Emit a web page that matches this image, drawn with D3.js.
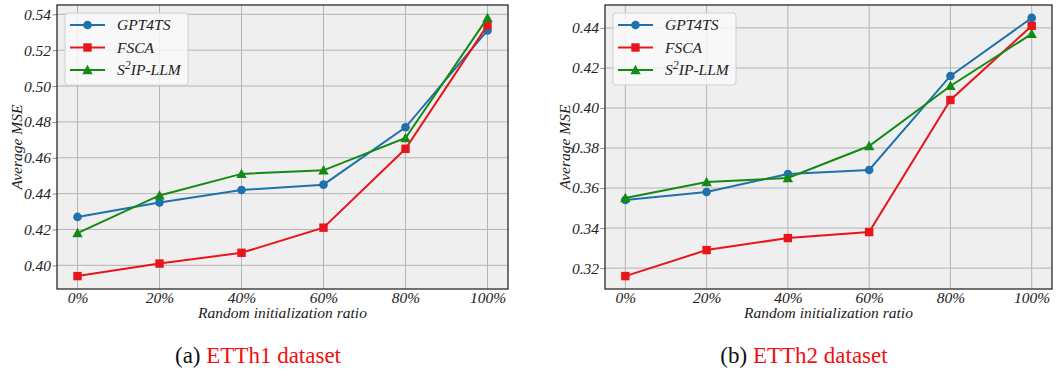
<!DOCTYPE html>
<html>
<head>
<meta charset="utf-8">
<script src="https://cdn.jsdelivr.net/npm/d3@7"></script>
<style>
  body { margin: 0; background: #fff; }
</style>
</head>
<body>
<script>
const ratios = [0, 20, 40, 60, 80, 100]
const tickLabels = ["0%", "20%", "40%", "60%", "80%", "100%"]
const seriesNames = ["GPT4TS", "FSCA", "S2IP-LLM"]
const colors = ["#1f71ad", "#e8161b", "#148a14"]
const markers = ["circle", "square", "triangle"]

const etth1Gpt = [0.427, 0.435, 0.442, 0.445, 0.477, 0.531]
const etth1Fsca = [0.394, 0.401, 0.407, 0.421, 0.465, 0.534]
const etth1S2ip = [0.418, 0.439, 0.451, 0.453, 0.471, 0.538]
const etth1Ticks = [0.40, 0.42, 0.44, 0.46, 0.48, 0.50, 0.52, 0.54]

const etth2Gpt = [0.354, 0.358, 0.367, 0.369, 0.416, 0.445]
const etth2Fsca = [0.316, 0.329, 0.335, 0.338, 0.404, 0.441]
const etth2S2ip = [0.355, 0.363, 0.365, 0.381, 0.411, 0.437]
const etth2Ticks = [0.32, 0.34, 0.36, 0.38, 0.40, 0.42, 0.44]

const FONT = "Liberation Serif"
const W = 1058, H = 369
const svg = d3.select("body").append("svg").attr("width", W).attr("height", H)
  .attr("font-family", FONT)

function marker(g, type, x, y, color) {
  if (type == "circle") {
    g.append("circle").attr("cx", x).attr("cy", y).attr("r", 4.3).attr("fill", color)
  } else if (type == "square") {
    g.append("rect").attr("x", x - 4.2).attr("y", y - 4.2).attr("width", 8.4).attr("height", 8.4).attr("fill", color)
  } else {
    const s = 5.2
    g.append("path").attr("d", `M${x},${y - s}L${x + s},${y + s * 0.8}L${x - s},${y + s * 0.8}Z`).attr("fill", color)
  }
}

function panel(opts) {
  const { left, right, top, bottom, series, yTicks, caption, captionX } = opts
  const g = svg.append("g").attr("font-family", FONT)
  const all = series.flat()
  const lo = d3.min(all), hi = d3.max(all), pad = (hi - lo) * 0.05
  const x = d3.scaleLinear().domain([-5, 105]).range([left, right])
  const y = d3.scaleLinear().domain([lo - pad, hi + pad]).range([bottom, top])

  g.append("rect").attr("x", left).attr("y", top).attr("width", right - left).attr("height", bottom - top)
    .attr("fill", "#efefef")

  // grid
  g.selectAll(".gx").data(ratios).join("line")
    .attr("x1", d => x(d)).attr("x2", d => x(d)).attr("y1", top).attr("y2", bottom)
    .attr("stroke", "#b4b4b4").attr("stroke-width", 1)
  g.selectAll(".gy").data(yTicks).join("line")
    .attr("x1", left).attr("x2", right).attr("y1", d => y(d)).attr("y2", d => y(d))
    .attr("stroke", "#b4b4b4").attr("stroke-width", 1)

  // axes
  const ya = g.append("g").attr("transform", `translate(${left},0)`)
    .call(d3.axisLeft(y).tickValues(yTicks).tickFormat(d3.format(".2f")).tickSize(4.5).tickPadding(1.5))
  const xa = g.append("g").attr("transform", `translate(0,${bottom})`)
    .call(d3.axisBottom(x).tickValues(ratios).tickFormat((d, i) => tickLabels[i]).tickSize(0).tickPadding(3))
  for (const a of [ya, xa]) {
    a.attr("font-family", FONT)
    a.select(".domain").remove()
    a.selectAll("line").attr("stroke", "#8a8a8a")
    a.selectAll("text").attr("font-family", FONT).attr("font-style", "italic")
      .attr("font-size", 15.5).attr("fill", "#222")
  }

  // series
  series.forEach((vals, k) => {
    const line = d3.line().x((d, i) => x(ratios[i])).y(d => y(d))
    g.append("path").attr("d", line(vals)).attr("fill", "none")
      .attr("stroke", colors[k]).attr("stroke-width", 2)
    vals.forEach((v, i) => marker(g, markers[k], x(ratios[i]), y(v), colors[k]))
  })

  // frame
  g.append("rect").attr("x", left).attr("y", top).attr("width", right - left).attr("height", bottom - top)
    .attr("fill", "none").attr("stroke", "#2a2a2a").attr("stroke-width", 1.3)

  // axis labels
  g.append("text").attr("x", (left + right) / 2).attr("y", bottom + 29)
    .attr("text-anchor", "middle").attr("font-family", FONT).attr("font-style", "italic")
    .attr("font-size", 15.5).attr("fill", "#222")
    .text("Random initialization ratio")
  g.append("text").attr("transform", `translate(${left - 35},${(top + bottom) / 2}) rotate(-90)`)
    .attr("text-anchor", "middle").attr("font-family", FONT).attr("font-style", "italic")
    .attr("font-size", 15.5).attr("fill", "#222")
    .text("Average MSE")

  // legend
  const lx = left + 8, ly = top + 8
  g.append("rect").attr("x", lx).attr("y", ly).attr("width", 123).attr("height", 72).attr("rx", 3)
    .attr("fill", "#f9f9f9").attr("fill-opacity", 0.85).attr("stroke", "#d0d0d0")
  seriesNames.forEach((name, k) => {
    const yy = ly + 12 + k * 22.5
    g.append("line").attr("x1", lx + 5).attr("x2", lx + 40).attr("y1", yy).attr("y2", yy)
      .attr("stroke", colors[k]).attr("stroke-width", 2)
    marker(g, markers[k], lx + 22.5, yy, colors[k])
    const t = g.append("text").attr("x", lx + 52).attr("y", yy + 5)
      .attr("font-family", FONT).attr("font-style", "italic").attr("font-size", 15.5).attr("fill", "#222")
    if (name == "S2IP-LLM") {
      t.append("tspan").text("S")
      t.append("tspan").attr("dy", -6).attr("font-size", 12).text("2")
      t.append("tspan").attr("dy", 6).text("IP-LLM")
    } else {
      t.text(name)
    }
  })

  // caption
  const c = g.append("text").attr("x", captionX).attr("y", 363).attr("text-anchor", "middle")
    .attr("font-family", FONT).attr("font-size", 23)
  c.append("tspan").attr("fill", "#111").text(caption[0] + " ")
  c.append("tspan").attr("fill", "#f01010").text(caption[1])
}

panel({ left: 57, right: 508, top: 5, bottom: 289,
  series: [etth1Gpt, etth1Fsca, etth1S2ip], yTicks: etth1Ticks,
  caption: ["(a)", "ETTh1 dataset"], captionX: 258 })

panel({ left: 605, right: 1052, top: 5, bottom: 289,
  series: [etth2Gpt, etth2Fsca, etth2S2ip], yTicks: etth2Ticks,
  caption: ["(b)", "ETTh2 dataset"], captionX: 804 })
</script>
</body>
</html>
